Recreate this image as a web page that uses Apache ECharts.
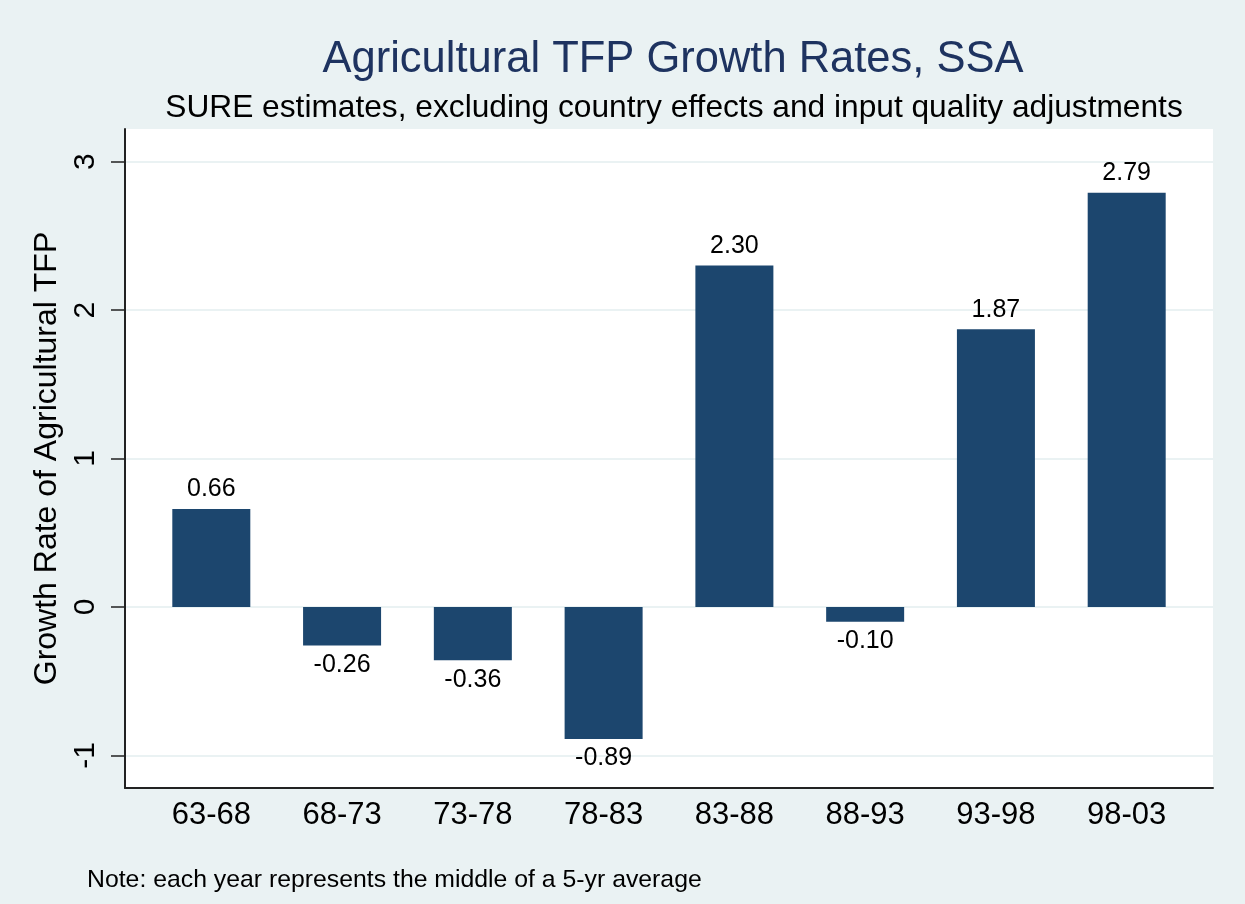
<!DOCTYPE html>
<html>
<head>
<meta charset="utf-8">
<title>Agricultural TFP Growth Rates, SSA</title>
<script src="https://cdn.jsdelivr.net/npm/echarts@6/dist/echarts.min.js"></script>
<style>
  html, body { margin: 0; padding: 0; background: #EAF2F3; }
  #chart { width: 1245px; height: 904px; }
</style>
</head>
<body>
<div id="chart"></div>
<script>
// periods (middle of 5-yr averages)
const categories = ['63-68', '68-73', '73-78', '78-83', '83-88', '88-93', '93-98', '98-03']
// SURE estimates, % growth
const tfpGrowth = [0.66, -0.26, -0.36, -0.89, 2.30, -0.10, 1.87, 2.79]
const yTicks = [-1, 0, 1, 2, 3]

const font = 'Liberation Sans, Arial, Helvetica, sans-serif'
const barColor = '#1C466E'
const bg = '#EAF2F3'

const chart = echarts.init(document.getElementById('chart'))

const option = {
  backgroundColor: bg,
  textStyle: { fontFamily: font },
  title: [
    {
      text: 'Agricultural TFP Growth Rates, SSA',
      left: 668,
      top: 33,
      textAlign: 'center',
      textStyle: { fontFamily: font, fontSize: 43.5, fontWeight: 'normal', color: '#1E3360' }
    },
    {
      text: 'SURE estimates, excluding country effects and input quality adjustments',
      left: 669,
      top: 87,
      textAlign: 'center',
      textStyle: { fontFamily: font, fontSize: 31.7, fontWeight: 'normal', color: '#000' }
    },
    {
      text: 'Note: each year represents the middle of a 5-yr average',
      left: 82,
      top: 863,
      textStyle: { fontFamily: font, fontSize: 24.8, fontWeight: 'normal', color: '#000' }
    }
  ],
  grid: {
    left: 125,
    right: 32,
    top: 129,
    bottom: 116,
    show: true,
    backgroundColor: '#fff',
    borderWidth: 0
  },
  xAxis: {
    type: 'value',
    min: -0.66,
    max: 7.66,
    splitLine: { show: false },
    axisTick: { show: false },
    axisLine: { show: true, onZero: false, lineStyle: { color: '#222', width: 2 } },
    axisLabel: {
      customValues: categories.map((c, i) => i),
      formatter: v => categories[Math.round(v)],
      fontFamily: font,
      fontSize: 31,
      color: '#000',
      margin: 12
    }
  },
  yAxis: {
    type: 'value',
    min: -1.22,
    max: 3.22,
    name: 'Growth Rate of Agricultural TFP',
    nameLocation: 'middle',
    nameGap: 53,
    nameTextStyle: { fontFamily: font, fontSize: 32, color: '#000' },
    axisLine: { show: true, onZero: false, lineStyle: { color: '#222', width: 2 } },
    axisTick: {
      show: true,
      customValues: yTicks,
      length: 14,
      lineStyle: { color: '#222', width: 1.5 }
    },
    axisLabel: {
      customValues: yTicks,
      rotate: 90,
      fontFamily: font,
      fontSize: 30,
      color: '#000',
      margin: 24
    },
    splitLine: { show: true, lineStyle: { color: bg, width: 2 } }
  },
  series: [
    {
      type: 'bar',
      barWidth: 78,
      itemStyle: { color: barColor },
      label: {
        show: true,
        fontFamily: font,
        fontSize: 25,
        color: '#000',
        distance: 7,
        formatter: p => p.value[1].toFixed(2)
      },
      data: tfpGrowth.map((v, i) => ({
        value: [i, v],
        label: { position: v < 0 ? 'bottom' : 'top' }
      }))
    }
  ]
}

chart.setOption(option)
</script>
</body>
</html>
